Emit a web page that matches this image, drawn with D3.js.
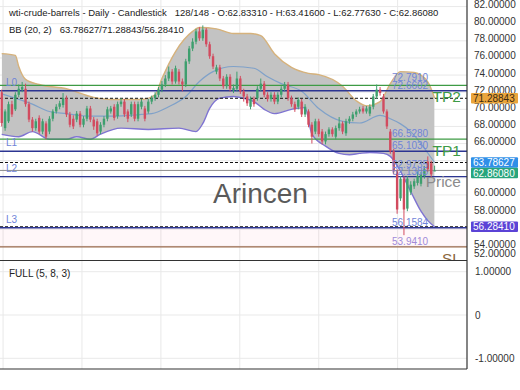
<!DOCTYPE html>
<html>
<head>
<meta charset="utf-8">
<script src="https://cdn.jsdelivr.net/npm/d3@7"></script>
<style>
  body { margin: 0; background: #fff; }
  svg { display: block; }
</style>
</head>
<body>
<div id="chart"></div>
<script>
// daily candles, bar 0 .. 127
const opens = [
  72.0, 67.8, 68.6, 70.6, 70.0, 71.7, 72.3, 72.4, 70.6, 68.8,
  67.8, 69.0, 67.4, 68.35, 67.4, 68.9, 69.75, 70.3, 70.5, 71.3,
  69.4, 68.9, 68.8, 69.5, 68.2, 68.9, 70.1, 68.8, 68.6, 67.4,
  68.2, 68.9, 69.75, 70.3, 69.2, 70.6, 70.9, 69.75, 69.4, 70.6,
  68.9, 70.3, 70.1, 69.75, 70.9, 71.3, 71.7, 72.3, 72.9, 73.6,
  74.4, 73.25, 74.4, 73.25, 72.9, 75.6, 77.1, 77.9, 79.1, 78.3,
  79.3, 77.6, 76.2, 74.4, 74.9, 73.6, 72.7, 73.8, 72.2, 72.4,
  73.6, 72.1, 71.5, 70.3, 71.2, 71.3, 72.4, 73.0, 71.7, 71.2,
  71.7, 70.9, 71.7, 72.4, 72.9, 71.3, 70.6, 70.3, 70.9, 69.4,
  69.75, 68.2, 67.4, 68.6, 67.4, 66.25, 67.1, 67.65, 66.8, 67.8,
  68.35, 67.2, 68.6, 68.9, 69.4, 69.75, 70.1, 69.75, 69.5, 70.3,
  71.5, 72.3, 71.5, 69.75, 67.4, 65.1, 62.75, 59.6, 61.9, 58.4,
  60.3, 61.0, 61.4, 61.3, 62.2, 63.9, 63.7, 62.8331];
const highs = [
  72.3, 70.0, 70.9, 71.0, 72.0, 72.9, 73.2, 73.0, 70.9, 69.1,
  68.9, 69.3, 68.9, 68.6, 69.2, 70.0, 70.6, 71.0, 71.9, 71.6,
  69.7, 69.3, 69.8, 69.8, 69.2, 70.4, 70.4, 69.1, 68.9, 68.5,
  69.2, 70.3, 70.4, 70.6, 70.9, 71.3, 71.2, 70.0, 70.9, 70.9,
  70.9, 71.2, 70.4, 71.2, 71.6, 72.0, 72.6, 73.3, 74.0, 75.0,
  74.7, 75.1, 74.7, 73.6, 75.9, 77.4, 78.3, 79.4, 79.6, 79.8,
  79.5, 77.9, 76.5, 75.2, 75.2, 73.9, 74.1, 74.1, 72.9, 74.4,
  73.9, 72.4, 71.8, 71.5, 71.5, 72.7, 73.6, 73.3, 72.0, 72.0,
  72.0, 72.0, 72.7, 73.2, 73.2, 71.6, 70.9, 71.4, 71.2, 70.6,
  70.0, 68.5, 68.9, 68.9, 67.7, 67.4, 67.9, 67.9, 68.1, 69.1,
  68.6, 68.9, 69.2, 69.7, 70.0, 70.3, 70.4, 70.4, 70.6, 71.8,
  72.9, 72.6, 71.8, 70.0, 67.7, 65.4, 63.0, 62.2, 62.2, 62.2,
  61.6, 61.9, 62.75, 62.7, 63.4, 64.5, 64.0, 63.416];
const lows = [
  68.0, 67.5, 68.4, 69.1, 69.8, 71.4, 72.0, 70.3, 68.5, 67.4,
  67.5, 67.1, 67.1, 66.5, 67.1, 68.6, 69.5, 70.0, 70.2, 69.1,
  67.9, 67.7, 68.5, 67.9, 67.9, 68.6, 68.5, 67.6, 66.9, 67.1,
  67.9, 68.6, 69.5, 68.7, 68.9, 70.3, 69.1, 68.5, 69.1, 68.6,
  68.6, 70.0, 68.6, 69.5, 70.6, 71.0, 71.4, 72.0, 72.6, 73.3,
  72.9, 73.0, 72.9, 72.1, 72.6, 75.3, 76.8, 77.6, 78.0, 78.0,
  77.3, 75.9, 74.7, 74.1, 73.3, 72.4, 72.4, 72.1, 71.9, 72.1,
  71.8, 70.9, 70.4, 70.0, 70.3, 71.0, 72.1, 71.4, 70.9, 70.9,
  70.6, 70.6, 71.4, 72.1, 71.0, 70.3, 69.7, 70.0, 69.1, 69.1,
  67.9, 66.0, 67.1, 66.8, 65.9, 65.9, 66.8, 66.8, 66.5, 67.5,
  67.1, 66.9, 68.3, 68.6, 69.1, 69.5, 69.5, 69.5, 69.2, 70.0,
  71.2, 71.6, 69.5, 67.7, 64.8, 62.4, 57.8, 59.3, 55.3, 58.1,
  60.0, 60.7, 61.1, 61.0, 61.9, 62.7, 62.1, 62.7763];
const closes = [
  68.4, 69.75, 70.6, 69.4, 71.7, 72.4, 72.6, 70.6, 68.8, 67.8,
  68.6, 67.4, 68.6, 66.8, 68.9, 69.75, 70.3, 70.7, 71.3, 69.4,
  68.2, 68.0, 69.5, 68.2, 68.9, 70.1, 68.8, 68.0, 67.2, 68.2,
  68.9, 70.0, 70.1, 69.0, 70.6, 70.9, 69.4, 68.9, 70.6, 68.9,
  70.6, 70.9, 68.9, 70.9, 71.3, 71.7, 72.3, 72.9, 73.6, 74.4,
  73.25, 74.8, 73.25, 72.9, 75.6, 77.1, 77.9, 79.1, 78.3, 79.3,
  77.6, 76.2, 75.0, 74.9, 73.6, 72.7, 73.8, 72.4, 72.5, 73.6,
  72.1, 71.5, 70.7, 71.2, 70.6, 72.4, 73.0, 71.7, 71.2, 71.7,
  70.9, 71.7, 72.4, 72.9, 71.3, 70.6, 70.0, 71.1, 69.4, 70.3,
  68.2, 66.8, 68.6, 67.1, 66.25, 67.1, 67.65, 67.1, 67.8, 68.35,
  67.4, 68.6, 68.9, 69.4, 69.75, 70.0, 69.75, 70.1, 70.3, 71.5,
  72.3, 71.9, 69.75, 68.0, 65.1, 62.75, 58.3, 61.9, 58.3, 61.9,
  61.2, 61.6, 62.2, 62.4, 63.0, 63.0, 62.4, 62.8608];

// Bollinger band (20, 2) at these bars
const upperBars = [0, 4, 5, 7, 11, 19, 27, 32, 41, 45, 47, 51, 56, 58, 63, 68, 73, 76, 80, 85, 90, 93, 100, 104, 107, 111, 114, 117, 121, 125, 127];
const upperVals = [76.5, 76.3, 75.0, 73.5, 72.9, 72.4, 71.4, 71.15, 71.15, 71.7, 73.6, 76.75, 79.1, 79.55, 79.4, 78.85, 78.85, 78.6, 76.5, 74.9, 74.2, 74.05, 72.7, 71.0, 70.4, 70.9, 73.0, 74.4, 74.3, 73.2, 71.29];
const midBars = [0, 9, 14, 19, 26, 32, 41, 44, 49, 54, 58, 62, 68, 74, 78, 82, 88, 93, 100, 105, 111, 114, 117, 120, 123, 125, 127];
const midVals = [71.8, 70.6, 69.75, 69.5, 69.2, 69.2, 69.4, 69.5, 70.3, 71.5, 73.25, 74.4, 75.0, 74.8, 73.8, 73.0, 72.1, 70.1, 68.6, 68.4, 69.3, 68.9, 68.3, 67.4, 66.0, 64.9, 63.79];
const lowerBars = [0, 5, 9, 14, 19, 22, 26, 29, 35, 43, 52, 57, 59, 61, 64, 68, 71, 74, 77, 80, 85, 89, 91, 95, 99, 102, 105, 108, 112, 114, 117, 120, 123, 125, 127];
const lowerVals = [67.07, 66.8, 67.4, 66.5, 66.5, 66.8, 66.5, 67.1, 67.8, 67.65, 67.8, 67.4, 68.35, 70.1, 71.3, 71.5, 71.3, 70.9, 70.0, 69.5, 70.0, 70.2, 67.1, 65.7, 64.85, 64.7, 64.85, 64.95, 64.85, 64.5, 62.75, 60.4, 58.1, 57.0, 56.28];

// horizontal levels
const levelValues = [72.791, 72.17, 71.28843, 66.528, 65.103, 63.78627, 62.8608, 62.1385, 56.2841, 56.1584, 53.941];
const levelKinds = ['tp', 'entry', 'bb', 'tp', 'entry', 'bb', 'price', 'entry', 'bb', 'entry', 'sl'];
const levelTexts = ['72.7910', '72.6602', '', '66.5280', '65.1030', '', '62.9735', '62.1385', '', '56.1584', '53.9410'];
const levelNames = ['TP2', 'L0', '', 'TP1', 'L1', '', 'Price', 'L2', '', 'L3', 'SL'];

const markerValues = [71.28843, 63.78627, 62.8608, 56.2841];
const markerColors = ['#eaa53c', '#2f8fe8', '#28a57c', '#5b43d6'];
const markerText = ['#3b2a12', '#fff', '#fff', '#fff'];

const priceTicks = [52, 54, 56, 58, 60, 62, 64, 66, 68, 70, 72, 74, 76, 78, 80, 82];
const stochTicks = [1, 0, -1];
const stochLabels = ['1.00000', '0', '-1.00000'];
const gridBars = [0.4, 23.55, 46.7, 69.85, 93.0, 116.15];

const width = 520;
const height = 390;
const plotRight = 467;
const mainBottom = 260.5;
const subTop = 261;
const subBottom = 369;
const font = 'Liberation Sans, Arial, sans-serif';

const kindStyle = {
  tp: { color: '#3e9b45', width: 1.2, dash: null, name: '#3e9b45' },
  entry: { color: '#2c3592', width: 1.4, dash: null, name: '#6f84d8' },
  bb: { color: '#111', width: 1, dash: '3,2', name: '#111' },
  price: { color: '#8c8c8c', width: 1, dash: null, name: '#8c8c8c' },
  sl: { color: '#9a6a4c', width: 1.3, dash: null, name: '#8b6840' } };

const x = d3.scaleLinear().domain([-0.5, 136.5]).range([0, plotRight]);
const y = d3.scaleLinear().domain([52.34, 82.77]).range([mainBottom, 0]);
const ySub = d3.scaleLinear().domain([-1.247, 1.247]).range([subBottom, subTop]);

const svg = d3.select('#chart').
append('svg').
attr('width', width).
attr('height', height).
attr('font-family', font);

const defs = svg.append('defs');
defs.append('clipPath').
attr('id', 'main-clip').
append('rect').
attr('x', 0).
attr('y', 0).
attr('width', plotRight).
attr('height', mainBottom);

const lowerPts = lowerBars.map((b, i) => [b, lowerVals[i]]);
const upperPts = upperBars.map((b, i) => [b, upperVals[i]]);
const midPts = midBars.map((b, i) => [b, midVals[i]]);

// region above the lower band, used to cut the band fill
defs.append('clipPath').
attr('id', 'above-lower').
append('path').
attr('d', d3.area().
curve(d3.curveMonotoneX).
x(d => x(d[0])).
y0(0).
y1(d => y(d[1]))(lowerPts));

// grid
const grid = svg.append('g').attr('stroke', '#e9e9e9').attr('stroke-width', 1);
grid.selectAll('.hg').
data(priceTicks.filter(v => y(v) <= mainBottom)).
enter().
append('line').
attr('x1', 0).
attr('x2', plotRight).
attr('y1', d => y(d)).
attr('y2', d => y(d));
grid.selectAll('.sg').
data(stochTicks).
enter().
append('line').
attr('x1', 0).
attr('x2', plotRight).
attr('y1', d => ySub(d)).
attr('y2', d => ySub(d));
grid.selectAll('.vg').
data(gridBars).
enter().
append('line').
attr('x1', d => x(d)).
attr('x2', d => x(d)).
attr('y1', 0).
attr('y2', subBottom);

const main = svg.append('g').attr('clip-path', 'url(#main-clip)');

// faint stop zone
main.append('rect').
attr('x', 0).
attr('width', plotRight).
attr('y', y(56.1584)).
attr('height', y(53.941) - y(56.1584)).
attr('fill', '#ff6090').
attr('opacity', 0.05);

// band fill
main.append('g').
attr('clip-path', 'url(#above-lower)').
append('path').
attr('d', d3.area().
curve(d3.curveMonotoneX).
x(d => x(d[0])).
y0(mainBottom).
y1(d => y(d[1]))(upperPts)).
attr('fill', '#c3c3c3');

const bandLine = d3.line().
curve(d3.curveMonotoneX).
x(d => x(d[0])).
y(d => y(d[1]));

main.append('path').
attr('d', bandLine(upperPts)).
attr('fill', 'none').
attr('stroke', '#d6b27c').
attr('stroke-width', 1.4);
main.append('path').
attr('d', bandLine(lowerPts)).
attr('fill', 'none').
attr('stroke', '#7f74d2').
attr('stroke-width', 1.4);
main.append('path').
attr('d', bandLine(midPts)).
attr('fill', 'none').
attr('stroke', '#7fa1c9').
attr('stroke-width', 1.2);

// level lines
main.selectAll('.level').
data(levelValues).
enter().
append('line').
attr('x1', 0).
attr('x2', plotRight).
attr('y1', d => y(d)).
attr('y2', d => y(d)).
attr('stroke', (d, i) => kindStyle[levelKinds[i]].color).
attr('stroke-width', (d, i) => kindStyle[levelKinds[i]].width).
attr('stroke-dasharray', (d, i) => kindStyle[levelKinds[i]].dash);

// candles
const bars = d3.range(opens.length);
const candle = main.append('g').
selectAll('g').
data(bars).
enter().
append('g').
attr('fill', i => closes[i] >= opens[i] ? '#3e9f6e' : '#d24b5f').
attr('stroke', i => closes[i] >= opens[i] ? '#3e9f6e' : '#d24b5f');
candle.append('line').
attr('x1', i => x(i)).
attr('x2', i => x(i)).
attr('y1', i => y(highs[i])).
attr('y2', i => y(lows[i])).
attr('stroke-width', 1);
candle.append('rect').
attr('x', i => x(i) - 1.2).
attr('width', 2.4).
attr('y', i => y(Math.max(opens[i], closes[i]))).
attr('height', i => Math.max(1, Math.abs(y(opens[i]) - y(closes[i])))).
attr('stroke', 'none');

// watermark
main.append('text').
attr('x', 213).
attr('y', 203).
attr('font-size', 28).
attr('fill', '#5a5a5a').
text('Arincen');

// level value labels
levelValues.forEach((v, i) => {
  if (levelTexts[i] === '') return;
  main.append('text').
  attr('x', 392).
  attr('y', y(v) - (i === 0 ? 4 : 2)).
  attr('font-size', 10).
  attr('fill', levelKinds[i] === 'sl' ? '#a08ad8' : '#6f84d8').
  text(levelTexts[i]);
});

// level names
levelValues.forEach((v, i) => {
  const kind = levelKinds[i];
  if (levelNames[i] === '') return;
  if (kind === 'entry') {
    main.append('text').
    attr('x', 6).
    attr('y', y(v) - 5).
    attr('font-size', 10).
    attr('fill', '#6f84d8').
    text(levelNames[i]);
  } else {
    main.append('text').
    attr('x', 461).
    attr('y', y(v) + 17).
    attr('text-anchor', 'end').
    attr('font-size', 15.5).
    attr('fill', kindStyle[kind].name).
    text(levelNames[i]);
  }
});

// frame
const frame = svg.append('g').attr('stroke', '#333').attr('stroke-width', 1.2);
frame.append('line').attr('x1', plotRight).attr('x2', plotRight).attr('y1', 0).attr('y2', subBottom);
frame.append('line').attr('x1', 0).attr('x2', plotRight).attr('y1', mainBottom).attr('y2', mainBottom);
frame.append('line').attr('x1', 0).attr('x2', plotRight).attr('y1', subBottom).attr('y2', subBottom);

// value markers on the axis, stacked so they do not overlap
const boxH = 10.5;
let lastBottom = -Infinity;
const markerY = markerValues.map(v => {
  let cy = y(v);
  if (cy - boxH / 2 < lastBottom) cy = lastBottom + boxH / 2;
  lastBottom = cy + boxH / 2;
  return cy;
});

// right axis, labels hidden where a marker sits on them
const tickY = v => Math.min(y(v) - 2, 253);
const covered = v => markerY.some(m => Math.abs(tickY(v) - m) < boxH / 2);
svg.append('g').
selectAll('text').
data(priceTicks.filter(v => !covered(v))).
enter().
append('text').
attr('x', 474).
attr('y', d => tickY(d)).
attr('dy', '0.35em').
attr('font-size', 10).
attr('fill', '#333').
text(d => d.toFixed(5));

svg.append('g').
selectAll('text').
data(stochTicks).
enter().
append('text').
attr('x', 475).
attr('y', d => ySub(d)).
attr('dy', '0.35em').
attr('font-size', 10).
attr('fill', '#333').
text((d, i) => stochLabels[i]);

const marker = svg.append('g').
selectAll('g').
data(markerValues).
enter().
append('g').
attr('transform', (d, i) => 'translate(471, ' + markerY[i] + ')');
marker.append('rect').
attr('x', 0).
attr('y', -boxH / 2).
attr('width', 47).
attr('height', boxH).
attr('rx', 1).
attr('fill', (d, i) => markerColors[i]);
marker.append('text').
attr('x', 2).
attr('dy', '0.35em').
attr('font-size', 10).
attr('fill', (d, i) => markerText[i]).
text(d => d.toFixed(5));

// titles
svg.append('text').
attr('x', 9).
attr('y', 16).
attr('font-size', 9.5).
attr('fill', '#222').
style('white-space', 'pre').
text('wti-crude-barrels - Daily - Candlestick   128/148 - O:62.83310 - H:63.41600 - L:62.77630 - C:62.86080');

svg.append('text').
attr('x', 9).
attr('y', 33).
attr('font-size', 9.5).
attr('fill', '#222').
style('white-space', 'pre').
text('BB (20, 2)   63.78627/71.28843/56.28410');

svg.append('text').
attr('x', 9).
attr('y', 277).
attr('font-size', 10).
attr('fill', '#222').
text('FULL (5, 8, 3)');
</script>
</body>
</html>
